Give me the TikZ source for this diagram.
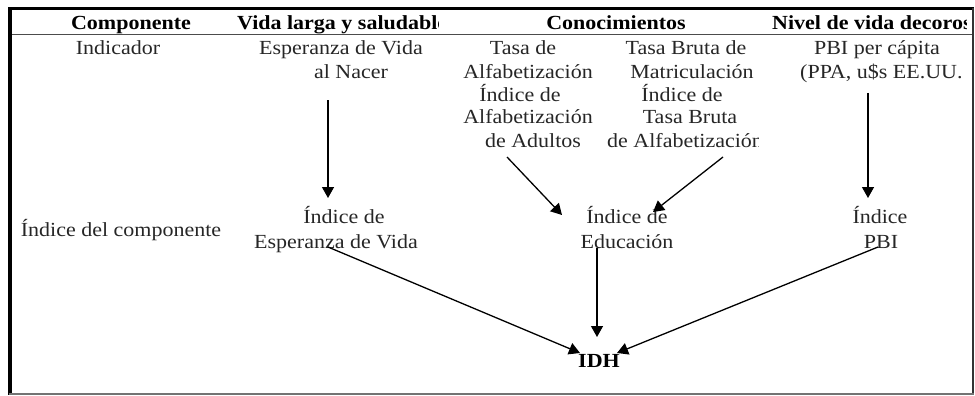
\documentclass[tikz,border=0pt]{standalone}
\usepackage{fontspec}
\setmainfont[FakeStretch=1.1]{Liberation Serif}
\usetikzlibrary{arrows.meta}
\begin{document}
\begin{tikzpicture}[x=1pt,y=-1pt,
  txt/.style={inner sep=0pt,anchor=base,font=\fontsize{20}{23}\selectfont,text=black!85},
  hdr/.style={txt,font=\fontsize{20}{23}\selectfont\bfseries,text=black},
  txtw/.style={txt,anchor=base west},
  hdrw/.style={hdr,anchor=base west},
  arr/.style={line width=1.3pt,-{Triangle[width=12pt,length=11pt]}}]
\useasboundingbox (0,0) rectangle (975,396);
% frame
\draw[line width=3pt] (8,9) -- (974,9);
\draw[line width=4pt] (10,8) -- (10,395);
\draw[line width=2pt,black!80] (973,8) -- (973,394);
\draw[line width=2pt,black!55] (9,393.5) -- (974,393.5);
\draw[line width=0.9pt,black!70] (12,34) -- (972,34);
% header
\node[hdr] (comp) at (131,30) {Componente};
\begin{scope}
\clip (200,12) rectangle (438,40);
\node[hdrw] (vida) at (237,30) {Vida larga y saludable};
\end{scope}
\node[hdr] (conoc) at (616,30) {Conocimientos};
\begin{scope}
\clip (760,12) rectangle (966,40);
\node[hdrw] (nivel) at (772,30) {Nivel de vida decoroso};
\end{scope}
% indicator row
\node[txt] (ind) at (118,55) {Indicador};
\node[txt] (esp1) at (341,55) {Esperanza de Vida};
\node[txt] (esp2) at (351,78) {al Nacer};
\node[txt] (ta1) at (523,55) {Tasa de};
\node[txt] (ta2) at (528,78) {Alfabetización};
\node[txt] (ta3) at (520,101) {Índice de};
\node[txt] (ta4) at (528,124) {Alfabetización};
\node[txt] (ta5) at (533,147) {de Adultos};
\node[txt] (tb1) at (686,55) {Tasa Bruta de};
\node[txt] (tb2) at (692,78) {Matriculación};
\node[txt] (tb3) at (682,101) {Índice de};
\node[txt] (tb4) at (690,124) {Tasa Bruta};
\begin{scope}
\clip (600,128) rectangle (758,160);
\node[txtw] (tb5) at (607,147) {de Alfabetización};
\end{scope}
\node[txt] (pb1) at (877,55) {PBI per cápita};
\begin{scope}
\clip (790,60) rectangle (960.5,90);
\node[txtw] (pb2) at (800,78) {(PPA, u\$s EE.UU.)};
\end{scope}
% component index row
\node[txt] (idc) at (121,236) {Índice del componente};
\node[txt] (iev1) at (344,223) {Índice de};
\node[txt] (iev2) at (336,248) {Esperanza de Vida};
\node[txt] (ied1) at (627,223) {Índice de};
\node[txt] (ied2) at (627,248) {Educación};
\node[txt] (ipb1) at (880,223) {Índice};
\node[txt] (ipb2) at (881,248) {PBI};
\node[hdr] (idh) at (599,367) {IDH};
% connector ends
\coordinate (e1s) at (328,100);  \coordinate (e1t) at (328,198);
\coordinate (p1s) at (868,93);   \coordinate (p1t) at (868,198);
\coordinate (a1s) at (507,157);  \coordinate (a1t) at (562,215);
\coordinate (b1s) at (723,157);  \coordinate (b1t) at (653,212);
\coordinate (v2s) at (328,247);  \coordinate (v2t) at (580,353);
\coordinate (d2s) at (597,248);  \coordinate (d2t) at (597,337);
\coordinate (q2s) at (878,247);  \coordinate (q2t) at (617,353);
\draw[arr] (e1s) -- (e1t);
\draw[arr] (p1s) -- (p1t);
\draw[arr] (a1s) -- (a1t);
\draw[arr] (b1s) -- (b1t);
\draw[arr] (v2s) -- (v2t);
\draw[arr] (d2s) -- (d2t);
\draw[arr] (q2s) -- (q2t);
\end{tikzpicture}
\end{document}
